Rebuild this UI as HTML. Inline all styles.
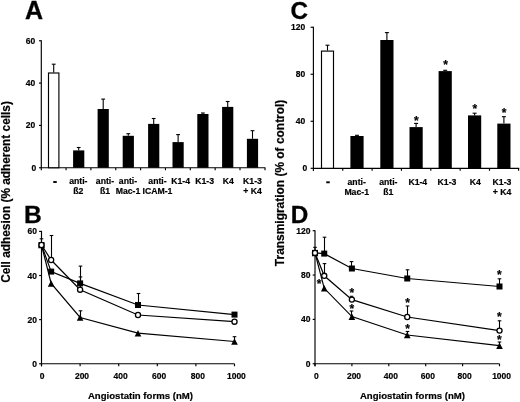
<!DOCTYPE html>
<html><head><meta charset="utf-8"><style>
html,body{margin:0;padding:0;background:#fff;}
body{width:520px;height:402px;overflow:hidden;}
svg{display:block;filter:grayscale(1) blur(0.3px);}
text{font-family:"Liberation Sans", sans-serif;font-weight:bold;fill:#000;stroke:#000;stroke-width:0.2px;}
text.pl{stroke-width:0.3px;}
text.st{stroke-width:0.2px;}
line{stroke:#000;}
</style></head><body>
<svg width="520" height="402" viewBox="0 0 520 402" stroke-linecap="butt">
<text x="25.00" y="19.00" font-size="25" text-anchor="start" class="pl">A</text>
<text x="23.90" y="222.70" font-size="24.6" text-anchor="start" class="pl">B</text>
<text x="290.60" y="18.90" font-size="24.3" text-anchor="start" class="pl">C</text>
<text x="290.80" y="222.70" font-size="24.3" text-anchor="start" class="pl">D</text>
<text transform="translate(9.6,192) rotate(-90)" font-size="11.85" text-anchor="middle" class="yl">Cell adhesion (% adherent cells)</text>
<text transform="translate(283.5,182.9) rotate(-90)" font-size="11.95" text-anchor="middle" class="yl">Transmigration (% of control)</text>
<line x1="41.30" y1="40.25" x2="41.30" y2="170.35" stroke-width="1.15"/>
<line x1="40.80" y1="167.75" x2="265.40" y2="167.75" stroke-width="1.15"/>
<line x1="39.00" y1="167.75" x2="41.30" y2="167.75" stroke-width="1.15"/>
<text x="36.20" y="170.75" font-size="8.5" text-anchor="end" >0</text>
<line x1="39.00" y1="125.42" x2="41.30" y2="125.42" stroke-width="1.15"/>
<text x="35.30" y="128.42" font-size="8.5" text-anchor="end" >20</text>
<line x1="39.00" y1="83.08" x2="41.30" y2="83.08" stroke-width="1.15"/>
<text x="35.30" y="86.08" font-size="8.5" text-anchor="end" >40</text>
<line x1="39.00" y1="40.75" x2="41.30" y2="40.75" stroke-width="1.15"/>
<text x="35.30" y="43.75" font-size="8.5" text-anchor="end" >60</text>
<line x1="53.70" y1="72.50" x2="53.70" y2="64.20" stroke-width="1.1"/>
<line x1="51.80" y1="64.20" x2="55.60" y2="64.20" stroke-width="1.1"/>
<rect x="48.50" y="73.00" width="10.40" height="94.75" fill="#fff" stroke="#000" stroke-width="1.15"/>
<line x1="78.70" y1="150.40" x2="78.70" y2="147.50" stroke-width="1.1"/>
<line x1="76.80" y1="147.50" x2="80.60" y2="147.50" stroke-width="1.1"/>
<rect x="73.10" y="150.40" width="11.20" height="17.35" fill="#000"/>
<line x1="103.20" y1="109.00" x2="103.20" y2="99.10" stroke-width="1.1"/>
<line x1="101.30" y1="99.10" x2="105.10" y2="99.10" stroke-width="1.1"/>
<rect x="97.60" y="109.00" width="11.20" height="58.75" fill="#000"/>
<line x1="128.30" y1="135.80" x2="128.30" y2="133.70" stroke-width="1.1"/>
<line x1="126.40" y1="133.70" x2="130.20" y2="133.70" stroke-width="1.1"/>
<rect x="122.70" y="135.80" width="11.20" height="31.95" fill="#000"/>
<line x1="153.70" y1="123.90" x2="153.70" y2="118.50" stroke-width="1.1"/>
<line x1="151.80" y1="118.50" x2="155.60" y2="118.50" stroke-width="1.1"/>
<rect x="148.10" y="123.90" width="11.20" height="43.85" fill="#000"/>
<line x1="178.10" y1="142.10" x2="178.10" y2="134.60" stroke-width="1.1"/>
<line x1="176.20" y1="134.60" x2="180.00" y2="134.60" stroke-width="1.1"/>
<rect x="172.50" y="142.10" width="11.20" height="25.65" fill="#000"/>
<line x1="202.90" y1="114.00" x2="202.90" y2="113.00" stroke-width="1.1"/>
<line x1="201.00" y1="113.00" x2="204.80" y2="113.00" stroke-width="1.1"/>
<rect x="197.30" y="114.00" width="11.20" height="53.75" fill="#000"/>
<line x1="227.70" y1="106.90" x2="227.70" y2="101.50" stroke-width="1.1"/>
<line x1="225.80" y1="101.50" x2="229.60" y2="101.50" stroke-width="1.1"/>
<rect x="222.10" y="106.90" width="11.20" height="60.85" fill="#000"/>
<line x1="252.50" y1="138.80" x2="252.50" y2="130.70" stroke-width="1.1"/>
<line x1="250.60" y1="130.70" x2="254.40" y2="130.70" stroke-width="1.1"/>
<rect x="246.90" y="138.80" width="11.20" height="28.95" fill="#000"/>
<line x1="66.05" y1="167.75" x2="66.05" y2="170.25" stroke-width="1.15"/>
<line x1="90.90" y1="167.75" x2="90.90" y2="170.25" stroke-width="1.15"/>
<line x1="115.75" y1="167.75" x2="115.75" y2="170.25" stroke-width="1.15"/>
<line x1="140.60" y1="167.75" x2="140.60" y2="170.25" stroke-width="1.15"/>
<line x1="165.45" y1="167.75" x2="165.45" y2="170.25" stroke-width="1.15"/>
<line x1="190.30" y1="167.75" x2="190.30" y2="170.25" stroke-width="1.15"/>
<line x1="215.15" y1="167.75" x2="215.15" y2="170.25" stroke-width="1.15"/>
<line x1="240.00" y1="167.75" x2="240.00" y2="170.25" stroke-width="1.15"/>
<line x1="265.00" y1="167.75" x2="265.00" y2="170.25" stroke-width="1.15"/>
<rect x="53.25" y="181.05" width="3.5" height="1.9" fill="#000"/>
<text x="78.30" y="183.60" font-size="8.7" text-anchor="middle" >anti-</text>
<text x="78.30" y="193.90" font-size="8.7" text-anchor="middle" >ß2</text>
<text x="105.00" y="183.60" font-size="8.7" text-anchor="middle" >anti-</text>
<text x="105.00" y="193.90" font-size="8.7" text-anchor="middle" >ß1</text>
<text x="128.00" y="183.60" font-size="8.7" text-anchor="middle" >anti-</text>
<text x="128.00" y="193.90" font-size="8.7" text-anchor="middle" >Mac-1</text>
<text x="157.50" y="183.60" font-size="8.7" text-anchor="middle" >anti-</text>
<text x="157.50" y="193.90" font-size="8.7" text-anchor="middle" >ICAM-1</text>
<text x="180.70" y="183.60" font-size="8.7" text-anchor="middle" >K1-4</text>
<text x="204.60" y="183.60" font-size="8.7" text-anchor="middle" >K1-3</text>
<text x="228.40" y="183.60" font-size="8.7" text-anchor="middle" >K4</text>
<text x="252.50" y="183.60" font-size="8.7" text-anchor="middle" >K1-3</text>
<text x="252.50" y="193.90" font-size="8.7" text-anchor="middle" >+ K4</text>
<line x1="313.40" y1="26.75" x2="313.40" y2="170.90" stroke-width="1.15"/>
<line x1="312.90" y1="168.30" x2="519.20" y2="168.30" stroke-width="1.15"/>
<line x1="310.60" y1="168.30" x2="313.40" y2="168.30" stroke-width="1.15"/>
<text x="307.30" y="171.30" font-size="8.5" text-anchor="end" >0</text>
<line x1="310.60" y1="121.28" x2="313.40" y2="121.28" stroke-width="1.15"/>
<text x="305.20" y="124.28" font-size="8.5" text-anchor="end" >40</text>
<line x1="310.60" y1="74.27" x2="313.40" y2="74.27" stroke-width="1.15"/>
<text x="305.20" y="77.27" font-size="8.5" text-anchor="end" >80</text>
<line x1="310.60" y1="27.25" x2="313.40" y2="27.25" stroke-width="1.15"/>
<text x="305.20" y="30.25" font-size="8.5" text-anchor="end" >120</text>
<line x1="327.50" y1="50.60" x2="327.50" y2="45.20" stroke-width="1.1"/>
<line x1="325.50" y1="45.20" x2="329.50" y2="45.20" stroke-width="1.1"/>
<rect x="321.50" y="51.10" width="12.00" height="117.20" fill="#fff" stroke="#000" stroke-width="1.15"/>
<line x1="357.00" y1="136.00" x2="357.00" y2="135.30" stroke-width="1.1"/>
<line x1="355.00" y1="135.30" x2="359.00" y2="135.30" stroke-width="1.1"/>
<rect x="350.40" y="136.00" width="13.20" height="32.30" fill="#000"/>
<line x1="386.90" y1="40.00" x2="386.90" y2="32.60" stroke-width="1.1"/>
<line x1="384.90" y1="32.60" x2="388.90" y2="32.60" stroke-width="1.1"/>
<rect x="380.30" y="40.00" width="13.20" height="128.30" fill="#000"/>
<line x1="416.10" y1="127.10" x2="416.10" y2="123.40" stroke-width="1.1"/>
<line x1="414.10" y1="123.40" x2="418.10" y2="123.40" stroke-width="1.1"/>
<rect x="409.50" y="127.10" width="13.20" height="41.20" fill="#000"/>
<text x="416.40" y="124.73" font-size="12" text-anchor="middle" class="st">*</text>
<line x1="445.20" y1="71.10" x2="445.20" y2="70.30" stroke-width="1.1"/>
<line x1="443.20" y1="70.30" x2="447.20" y2="70.30" stroke-width="1.1"/>
<rect x="438.60" y="71.10" width="13.20" height="97.20" fill="#000"/>
<text x="445.50" y="69.43" font-size="12" text-anchor="middle" class="st">*</text>
<line x1="474.60" y1="115.40" x2="474.60" y2="113.20" stroke-width="1.1"/>
<line x1="472.60" y1="113.20" x2="476.60" y2="113.20" stroke-width="1.1"/>
<rect x="468.00" y="115.40" width="13.20" height="52.90" fill="#000"/>
<text x="474.90" y="112.73" font-size="12" text-anchor="middle" class="st">*</text>
<line x1="503.90" y1="123.60" x2="503.90" y2="116.70" stroke-width="1.1"/>
<line x1="501.90" y1="116.70" x2="505.90" y2="116.70" stroke-width="1.1"/>
<rect x="497.30" y="123.60" width="13.20" height="44.70" fill="#000"/>
<text x="504.20" y="116.53" font-size="12" text-anchor="middle" class="st">*</text>
<line x1="342.75" y1="168.30" x2="342.75" y2="170.80" stroke-width="1.15"/>
<line x1="372.10" y1="168.30" x2="372.10" y2="170.80" stroke-width="1.15"/>
<line x1="401.45" y1="168.30" x2="401.45" y2="170.80" stroke-width="1.15"/>
<line x1="430.80" y1="168.30" x2="430.80" y2="170.80" stroke-width="1.15"/>
<line x1="460.15" y1="168.30" x2="460.15" y2="170.80" stroke-width="1.15"/>
<line x1="489.50" y1="168.30" x2="489.50" y2="170.80" stroke-width="1.15"/>
<line x1="518.60" y1="168.30" x2="518.60" y2="170.80" stroke-width="1.15"/>
<rect x="326.25" y="181.35" width="3.5" height="1.9" fill="#000"/>
<text x="356.70" y="184.70" font-size="8.7" text-anchor="middle" >anti-</text>
<text x="356.70" y="194.90" font-size="8.7" text-anchor="middle" >Mac-1</text>
<text x="388.30" y="184.70" font-size="8.7" text-anchor="middle" >anti-</text>
<text x="388.30" y="194.90" font-size="8.7" text-anchor="middle" >ß1</text>
<text x="417.80" y="184.70" font-size="8.7" text-anchor="middle" >K1-4</text>
<text x="447.00" y="184.70" font-size="8.7" text-anchor="middle" >K1-3</text>
<text x="475.40" y="184.70" font-size="8.7" text-anchor="middle" >K4</text>
<text x="502.00" y="184.70" font-size="8.7" text-anchor="middle" >K1-3</text>
<text x="502.00" y="194.90" font-size="8.7" text-anchor="middle" >+ K4</text>
<line x1="41.50" y1="230.90" x2="41.50" y2="366.35" stroke-width="1.15"/>
<line x1="41.00" y1="363.75" x2="234.50" y2="363.75" stroke-width="1.15"/>
<line x1="39.10" y1="363.75" x2="41.50" y2="363.75" stroke-width="1.15"/>
<text x="36.90" y="366.75" font-size="8.5" text-anchor="end" >0</text>
<line x1="39.10" y1="319.63" x2="41.50" y2="319.63" stroke-width="1.15"/>
<text x="36.90" y="322.63" font-size="8.5" text-anchor="end" >20</text>
<line x1="39.10" y1="275.52" x2="41.50" y2="275.52" stroke-width="1.15"/>
<text x="36.90" y="278.52" font-size="8.5" text-anchor="end" >40</text>
<line x1="39.10" y1="231.40" x2="41.50" y2="231.40" stroke-width="1.15"/>
<text x="36.90" y="234.40" font-size="8.5" text-anchor="end" >60</text>
<line x1="41.50" y1="363.75" x2="41.50" y2="366.25" stroke-width="1.15"/>
<text x="42.10" y="378.80" font-size="8.5" text-anchor="middle" >0</text>
<line x1="80.10" y1="363.75" x2="80.10" y2="366.25" stroke-width="1.15"/>
<text x="82.00" y="378.80" font-size="8.5" text-anchor="middle" >200</text>
<line x1="118.70" y1="363.75" x2="118.70" y2="366.25" stroke-width="1.15"/>
<text x="120.60" y="378.80" font-size="8.5" text-anchor="middle" >400</text>
<line x1="157.30" y1="363.75" x2="157.30" y2="366.25" stroke-width="1.15"/>
<text x="159.20" y="378.80" font-size="8.5" text-anchor="middle" >600</text>
<line x1="195.90" y1="363.75" x2="195.90" y2="366.25" stroke-width="1.15"/>
<text x="197.80" y="378.80" font-size="8.5" text-anchor="middle" >800</text>
<line x1="234.50" y1="363.75" x2="234.50" y2="366.25" stroke-width="1.15"/>
<text x="236.40" y="378.80" font-size="8.5" text-anchor="middle" >1000</text>
<text x="140.45" y="398.90" font-size="9.6" text-anchor="middle" >Angiostatin forms (nM)</text>
<line x1="315.00" y1="230.20" x2="315.00" y2="366.35" stroke-width="1.15"/>
<line x1="314.50" y1="363.75" x2="499.50" y2="363.75" stroke-width="1.15"/>
<line x1="312.70" y1="363.75" x2="315.00" y2="363.75" stroke-width="1.15"/>
<text x="310.40" y="366.75" font-size="8.5" text-anchor="end" >0</text>
<line x1="312.70" y1="319.40" x2="315.00" y2="319.40" stroke-width="1.15"/>
<text x="310.40" y="322.40" font-size="8.5" text-anchor="end" >40</text>
<line x1="312.70" y1="275.05" x2="315.00" y2="275.05" stroke-width="1.15"/>
<text x="310.40" y="278.05" font-size="8.5" text-anchor="end" >80</text>
<line x1="312.70" y1="230.70" x2="315.00" y2="230.70" stroke-width="1.15"/>
<text x="310.40" y="233.70" font-size="8.5" text-anchor="end" >120</text>
<line x1="315.00" y1="363.75" x2="315.00" y2="366.25" stroke-width="1.15"/>
<text x="316.30" y="378.80" font-size="8.5" text-anchor="middle" >0</text>
<line x1="351.90" y1="363.75" x2="351.90" y2="366.25" stroke-width="1.15"/>
<text x="354.00" y="378.80" font-size="8.5" text-anchor="middle" >200</text>
<line x1="388.80" y1="363.75" x2="388.80" y2="366.25" stroke-width="1.15"/>
<text x="390.90" y="378.80" font-size="8.5" text-anchor="middle" >400</text>
<line x1="425.70" y1="363.75" x2="425.70" y2="366.25" stroke-width="1.15"/>
<text x="427.80" y="378.80" font-size="8.5" text-anchor="middle" >600</text>
<line x1="462.60" y1="363.75" x2="462.60" y2="366.25" stroke-width="1.15"/>
<text x="464.70" y="378.80" font-size="8.5" text-anchor="middle" >800</text>
<line x1="499.50" y1="363.75" x2="499.50" y2="366.25" stroke-width="1.15"/>
<text x="501.60" y="378.80" font-size="8.5" text-anchor="middle" >1000</text>
<text x="412.45" y="398.90" font-size="9.6" text-anchor="middle" >Angiostatin forms (nM)</text>
<polyline points="41.50,245.00 51.15,271.60 80.10,283.40 138.00,305.00 234.50,314.60" fill="none" stroke="#000" stroke-width="1.2"/>
<line x1="80.50" y1="283.40" x2="80.50" y2="266.10" stroke-width="1.1"/>
<line x1="78.70" y1="266.10" x2="82.30" y2="266.10" stroke-width="1.1"/>
<line x1="138.50" y1="305.00" x2="138.50" y2="293.50" stroke-width="1.1"/>
<line x1="136.70" y1="293.50" x2="140.30" y2="293.50" stroke-width="1.1"/>
<polyline points="41.50,245.00 51.15,260.00 80.10,289.70 138.00,315.00 234.50,321.70" fill="none" stroke="#000" stroke-width="1.2"/>
<line x1="51.50" y1="260.00" x2="51.50" y2="235.50" stroke-width="1.1"/>
<line x1="49.70" y1="235.50" x2="53.30" y2="235.50" stroke-width="1.1"/>
<line x1="80.50" y1="289.70" x2="80.50" y2="276.90" stroke-width="1.1"/>
<line x1="78.70" y1="276.90" x2="82.30" y2="276.90" stroke-width="1.1"/>
<polyline points="41.50,245.00 51.15,283.50 80.10,317.50 138.00,333.20 234.50,341.50" fill="none" stroke="#000" stroke-width="1.2"/>
<line x1="80.50" y1="317.50" x2="80.50" y2="310.80" stroke-width="1.1"/>
<line x1="78.70" y1="310.80" x2="82.30" y2="310.80" stroke-width="1.1"/>
<line x1="234.50" y1="341.50" x2="234.50" y2="336.70" stroke-width="1.1"/>
<line x1="232.70" y1="336.70" x2="236.30" y2="336.70" stroke-width="1.1"/>
<line x1="41.50" y1="245.00" x2="41.50" y2="238.80" stroke-width="1.1"/>
<line x1="39.70" y1="238.80" x2="43.30" y2="238.80" stroke-width="1.1"/>
<path d="M38.20,248.30 L44.80,248.30 L41.50,241.70 Z" fill="#000"/>
<path d="M47.85,286.80 L54.45,286.80 L51.15,280.20 Z" fill="#000"/>
<path d="M76.80,320.80 L83.40,320.80 L80.10,314.20 Z" fill="#000"/>
<path d="M134.70,336.50 L141.30,336.50 L138.00,329.90 Z" fill="#000"/>
<path d="M231.20,344.80 L237.80,344.80 L234.50,338.20 Z" fill="#000"/>
<rect x="38.50" y="242.00" width="6.00" height="6.00" fill="#000"/>
<rect x="48.15" y="268.60" width="6.00" height="6.00" fill="#000"/>
<rect x="77.10" y="280.40" width="6.00" height="6.00" fill="#000"/>
<rect x="135.00" y="302.00" width="6.00" height="6.00" fill="#000"/>
<rect x="231.50" y="311.60" width="6.00" height="6.00" fill="#000"/>
<circle cx="41.50" cy="245.00" r="2.55" fill="#fff" stroke="#000" stroke-width="1.3"/>
<circle cx="51.15" cy="260.00" r="2.55" fill="#fff" stroke="#000" stroke-width="1.3"/>
<circle cx="80.10" cy="289.70" r="2.55" fill="#fff" stroke="#000" stroke-width="1.3"/>
<circle cx="138.00" cy="315.00" r="2.55" fill="#fff" stroke="#000" stroke-width="1.3"/>
<circle cx="234.50" cy="321.70" r="2.55" fill="#fff" stroke="#000" stroke-width="1.3"/>
<polyline points="315.00,252.90 324.23,253.60 351.90,268.50 407.25,278.50 499.50,286.50" fill="none" stroke="#000" stroke-width="1.2"/>
<line x1="324.50" y1="253.60" x2="324.50" y2="237.20" stroke-width="1.1"/>
<line x1="322.70" y1="237.20" x2="326.30" y2="237.20" stroke-width="1.1"/>
<line x1="351.50" y1="268.50" x2="351.50" y2="261.60" stroke-width="1.1"/>
<line x1="349.70" y1="261.60" x2="353.30" y2="261.60" stroke-width="1.1"/>
<line x1="407.50" y1="278.50" x2="407.50" y2="269.80" stroke-width="1.1"/>
<line x1="405.70" y1="269.80" x2="409.30" y2="269.80" stroke-width="1.1"/>
<line x1="499.50" y1="286.50" x2="499.50" y2="278.80" stroke-width="1.1"/>
<line x1="497.70" y1="278.80" x2="501.30" y2="278.80" stroke-width="1.1"/>
<polyline points="315.00,252.90 324.23,275.80 351.90,299.60 407.25,317.00 499.50,330.60" fill="none" stroke="#000" stroke-width="1.2"/>
<line x1="324.50" y1="275.80" x2="324.50" y2="263.60" stroke-width="1.1"/>
<line x1="322.70" y1="263.60" x2="326.30" y2="263.60" stroke-width="1.1"/>
<line x1="351.50" y1="299.60" x2="351.50" y2="296.30" stroke-width="1.1"/>
<line x1="349.70" y1="296.30" x2="353.30" y2="296.30" stroke-width="1.1"/>
<line x1="407.50" y1="317.00" x2="407.50" y2="306.00" stroke-width="1.1"/>
<line x1="405.70" y1="306.00" x2="409.30" y2="306.00" stroke-width="1.1"/>
<line x1="499.50" y1="330.60" x2="499.50" y2="320.80" stroke-width="1.1"/>
<line x1="497.70" y1="320.80" x2="501.30" y2="320.80" stroke-width="1.1"/>
<polyline points="315.00,252.90 324.23,288.30 351.90,316.60 407.25,335.00 499.50,345.70" fill="none" stroke="#000" stroke-width="1.2"/>
<line x1="351.50" y1="316.60" x2="351.50" y2="311.00" stroke-width="1.1"/>
<line x1="349.70" y1="311.00" x2="353.30" y2="311.00" stroke-width="1.1"/>
<line x1="407.50" y1="335.00" x2="407.50" y2="331.50" stroke-width="1.1"/>
<line x1="405.70" y1="331.50" x2="409.30" y2="331.50" stroke-width="1.1"/>
<line x1="499.50" y1="345.70" x2="499.50" y2="342.00" stroke-width="1.1"/>
<line x1="497.70" y1="342.00" x2="501.30" y2="342.00" stroke-width="1.1"/>
<line x1="315.00" y1="252.88" x2="315.00" y2="247.33" stroke-width="1.1"/>
<line x1="313.20" y1="247.33" x2="316.80" y2="247.33" stroke-width="1.1"/>
<path d="M311.70,256.20 L318.30,256.20 L315.00,249.60 Z" fill="#000"/>
<path d="M320.93,291.60 L327.53,291.60 L324.23,285.00 Z" fill="#000"/>
<path d="M348.60,319.90 L355.20,319.90 L351.90,313.30 Z" fill="#000"/>
<path d="M403.95,338.30 L410.55,338.30 L407.25,331.70 Z" fill="#000"/>
<path d="M496.20,349.00 L502.80,349.00 L499.50,342.40 Z" fill="#000"/>
<rect x="312.00" y="249.90" width="6.00" height="6.00" fill="#000"/>
<rect x="321.23" y="250.60" width="6.00" height="6.00" fill="#000"/>
<rect x="348.90" y="265.50" width="6.00" height="6.00" fill="#000"/>
<rect x="404.25" y="275.50" width="6.00" height="6.00" fill="#000"/>
<rect x="496.50" y="283.50" width="6.00" height="6.00" fill="#000"/>
<circle cx="315.00" cy="252.90" r="2.55" fill="#fff" stroke="#000" stroke-width="1.3"/>
<circle cx="324.23" cy="275.80" r="2.55" fill="#fff" stroke="#000" stroke-width="1.3"/>
<circle cx="351.90" cy="299.60" r="2.55" fill="#fff" stroke="#000" stroke-width="1.3"/>
<circle cx="407.25" cy="317.00" r="2.55" fill="#fff" stroke="#000" stroke-width="1.3"/>
<circle cx="499.50" cy="330.60" r="2.55" fill="#fff" stroke="#000" stroke-width="1.3"/>
<text x="319.10" y="288.33" font-size="12" text-anchor="middle" class="st">*</text>
<text x="351.90" y="297.23" font-size="12" text-anchor="middle" class="st">*</text>
<text x="351.90" y="312.53" font-size="12" text-anchor="middle" class="st">*</text>
<text x="407.60" y="306.53" font-size="12" text-anchor="middle" class="st">*</text>
<text x="407.60" y="333.23" font-size="12" text-anchor="middle" class="st">*</text>
<text x="499.30" y="278.63" font-size="12" text-anchor="middle" class="st">*</text>
<text x="499.30" y="321.23" font-size="12" text-anchor="middle" class="st">*</text>
<text x="499.30" y="343.63" font-size="12" text-anchor="middle" class="st">*</text>
</svg>
</body></html>
